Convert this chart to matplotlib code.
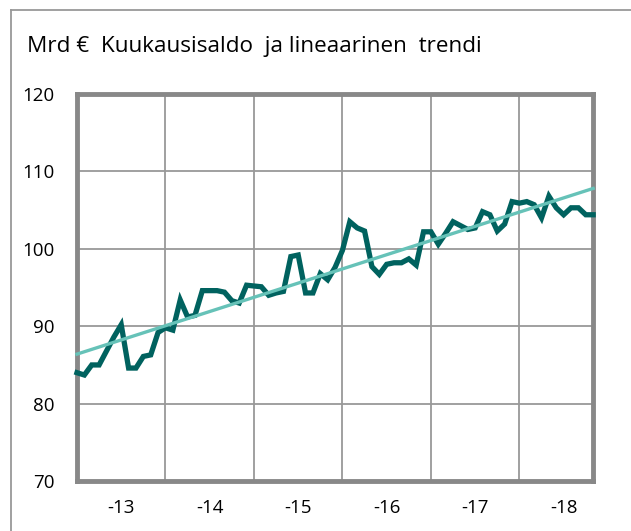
import numpy as np
import matplotlib
matplotlib.use("Agg")
import matplotlib.pyplot as plt
from matplotlib.lines import Line2D

# kuukausisaldo, mrd €, 1/2013 - 11/2018
saldo = [84.0, 83.7, 85.0, 85.0, 86.8, 88.6, 90.2, 84.6, 84.6, 86.1, 86.3, 89.2,
         89.8, 89.5, 93.4, 91.2, 91.4, 94.6, 94.6, 94.6, 94.4, 93.3, 93.0, 95.3,
         95.2, 95.1, 94.0, 94.3, 94.5, 99.0, 99.2, 94.3, 94.3, 96.8, 96.0, 97.6,
         99.8, 103.5, 102.7, 102.3, 97.7, 96.7, 98.0, 98.2, 98.2, 98.7, 97.9, 102.2,
         102.2, 100.6, 102.0, 103.5, 103.0, 102.5, 102.7, 104.8, 104.4, 102.3, 103.2, 106.1,
         105.9, 106.1, 105.7, 104.0, 106.8, 105.3, 104.4, 105.3, 105.3, 104.4, 104.4]
trendi_alku = 86.4
trendi_loppu = 107.8
vuodet = [2013, 2014, 2015, 2016, 2017, 2018]
vuosi_nimet = ['-13', '-14', '-15', '-16', '-17', '-18']

plt.rcParams['font.family'] = ['Open Sans', 'DejaVu Sans']

x = 2013 + np.arange(len(saldo)) / 12.0

fig = plt.figure(figsize=(6.31, 5.31), dpi=100)
ax = fig.add_axes([0.122, 0.094, 0.818, 0.729])

ax.plot(x, saldo, color='#00625f', lw=3.8, solid_joinstyle='miter', zorder=3, clip_on=False)
ax.plot([x[0], x[-1]], [trendi_alku, trendi_loppu], color='#66c2b8', lw=2.4, zorder=4, clip_on=False)

ax.set_xlim(x[0], x[-1])
ax.set_ylim(70, 120)
ax.set_yticks([70, 80, 90, 100, 110, 120])
ax.set_xticks([v + 0.5 for v in vuodet])
ax.set_xticklabels(vuosi_nimet)
ax.set_xticks(vuodet[1:], minor=True)
ax.tick_params(which='both', length=0, labelsize=13.5, colors='black')
ax.tick_params(axis='x', pad=13)
ax.tick_params(axis='y', pad=16)
ax.grid(False)
ax.grid(True, which='minor', axis='x', color='#999999', lw=1.3)
ax.grid(True, which='major', axis='y', color='#999999', lw=1.3)
for s in ax.spines.values():
    s.set_color('#888888')
    s.set_linewidth(3.5)

fig.text(0.043, 0.912, 'Mrd €  Kuukausisaldo  ja lineaarinen  trendi', fontsize=16.2, va='center')

# ulkokehys
fig.add_artist(Line2D([0.017, 1.0], [0.981, 0.981], color='#999999', lw=1.3))
fig.add_artist(Line2D([0.017, 0.017], [0.0, 0.981], color='#999999', lw=1.3))

fig.savefig('out.png', dpi=100)
